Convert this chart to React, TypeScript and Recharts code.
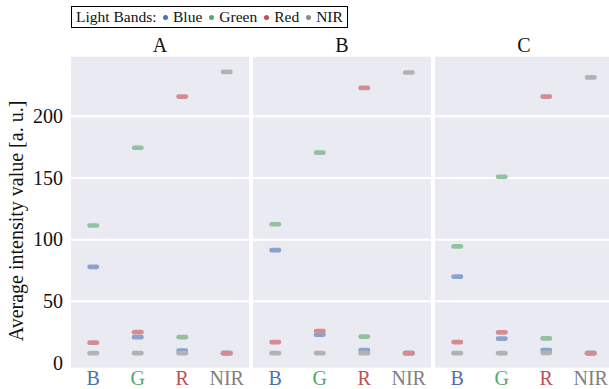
import React from 'react';
import { ScatterChart, Scatter, XAxis, YAxis, CartesianGrid } from 'recharts';

// ---- data ----
const categories = ['B', 'G', 'R', 'NIR'];
const categoryColors = ['#4C72B0', '#55A868', '#C44E52', '#7F7F7F'];
const bandNames = ['Blue', 'Green', 'Red', 'NIR'];
const bandColors = ['#4C72B0', '#55A868', '#C44E52', '#8C8C8C'];
// marker colours: band colours at 60% over the panel background
const markerColors = ['#8BA2CA', '#91C29F', '#D38C92', '#B2B2B5'];
const panelTitles = ['A', 'B', 'C'];
const yTicks = [0, 50, 100, 150, 200];
const gridValues = [50, 100, 150, 200];

// values per category B, G, R, NIR
const aBlue = [78, 21, 10, 8];
const aGreen = [111.5, 174.5, 21, 8];
const aRed = [16.5, 25, 216, 8];
const aNir = [8, 8, 8, 236];

const bBlue = [91.5, 23, 10.5, 8];
const bGreen = [112.5, 170.5, 21.5, 8];
const bRed = [17, 26, 223, 8];
const bNir = [8, 8, 8, 235.5];

const cBlue = [70, 19.8, 10.5, 8];
const cGreen = [94.5, 151, 20, 8];
const cRed = [17, 24.8, 216, 8];
const cNir = [8, 8, 8.3, 231.5];

const panels = [
  [aBlue, aGreen, aRed, aNir],
  [bBlue, bGreen, bRed, bNir],
  [cBlue, cGreen, cRed, cNir],
];

const FONT = "'Liberation Serif', 'Times New Roman', serif";
const Y_DOMAIN: [number, number] = [-3.6, 248.3];
const TOP = 56.7;
const CHART_H = 389;
const XAXIS_H = 21.5;
const YAXIS_W = 71;
const PANEL_W = 178;
const panelLefts = [71, 253, 435];

const toPoints = (vals: number[]) => vals.map((v, i) => ({ x: i, y: v }));

const makePill = (color: string) => (props: any) => {
  const { cx, cy } = props;
  if (cx == null || cy == null) return <g />;
  return (
    <rect x={cx - 6} y={cy - 2.35} width={12} height={4.7} rx={2.35} ry={2.35} fill={color} />
  );
};

const textStyle = { fontFamily: FONT };

const CatTick = (props: any) => {
  const { x, y, payload } = props;
  const i = payload.value as number;
  return (
    <text x={x} y={y} dy="0.71em" textAnchor="middle" fill={categoryColors[i]}
      fontFamily={FONT} fontSize={20} style={textStyle}>
      {categories[i]}
    </text>
  );
};

const ValTick = (props: any) => {
  const { x, y, payload } = props;
  return (
    <text x={x} y={y} dy="0.34em" textAnchor="end" fill="#111" fontFamily={FONT} fontSize={20}
      style={textStyle}>
      {payload.value}
    </text>
  );
};

const YLabel = () => (
  <text x={22.5} y={221} transform="rotate(-90, 22.5, 221)" textAnchor="middle"
    fill="#111" fontFamily={FONT} fontSize={20} style={textStyle}>
    Average intensity value [a. u.]
  </text>
);

function Panel({ idx }: { idx: number }) {
  const first = idx === 0;
  const width = first ? YAXIS_W + PANEL_W : PANEL_W;
  const left = first ? 0 : panelLefts[idx];
  const series = panels[idx];
  return (
    <div style={{ position: 'absolute', left, top: 0 }}>
      <ScatterChart width={width} height={CHART_H}
        margin={{ top: TOP, right: 0, bottom: 0, left: 0 }}>
        <CartesianGrid fill="#EAEAF2" vertical={false} horizontalValues={gridValues}
          stroke="#FFFFFF" strokeWidth={2} strokeOpacity={1} />
        <XAxis type="number" dataKey="x" domain={[-0.5, 3.5]} ticks={[0, 1, 2, 3]}
          interval={0} tick={<CatTick />} tickLine={false} axisLine={false}
          tickSize={1} tickMargin={2} height={XAXIS_H} allowDataOverflow />
        <YAxis type="number" dataKey="y" domain={Y_DOMAIN} ticks={yTicks} interval={0}
          allowDataOverflow hide={!first} width={first ? YAXIS_W : 0}
          tick={<ValTick />} tickLine={false} axisLine={false} tickSize={6} tickMargin={2}
          label={first ? <YLabel /> : undefined} />
        {series.map((vals, s) => (
          <Scatter key={bandNames[s]} name={bandNames[s]} data={toPoints(vals)}
            fill={bandColors[s]} shape={makePill(markerColors[s])} isAnimationActive={false} />
        ))}
      </ScatterChart>
    </div>
  );
}

export default function App() {
  return (
    <div style={{ position: 'absolute', left: 0, top: 0, width: 609, height: 389,
      overflow: 'hidden', background: '#fff', fontFamily: FONT }}>
      {[0, 1, 2].map((i) => <Panel key={i} idx={i} />)}
      {panelTitles.map((t, i) => (
        <div key={t} style={{ position: 'absolute', left: panelLefts[i], top: 35, width: PANEL_W,
          textAlign: 'center', fontSize: 20, lineHeight: '20px', color: '#111' }}>{t}</div>
      ))}
      <div style={{ position: 'absolute', left: 71, top: 6, height: 22, boxSizing: 'border-box',
        border: '1px solid #000', padding: '0 4px', display: 'flex', alignItems: 'center',
        whiteSpace: 'nowrap', fontSize: 15.5, lineHeight: '20px', color: '#111', background: '#fff' }}>
        <span>Light Bands:</span>
        {bandNames.map((n, i) => (
          <span key={n} style={{ display: 'flex', alignItems: 'center', marginLeft: i === 0 ? 6.5 : 7 }}>
            <span style={{ width: 5, height: 5, borderRadius: 3, background: bandColors[i],
              display: 'inline-block', marginRight: 5 }} />
            <span>{n}</span>
          </span>
        ))}
      </div>
    </div>
  );
}
